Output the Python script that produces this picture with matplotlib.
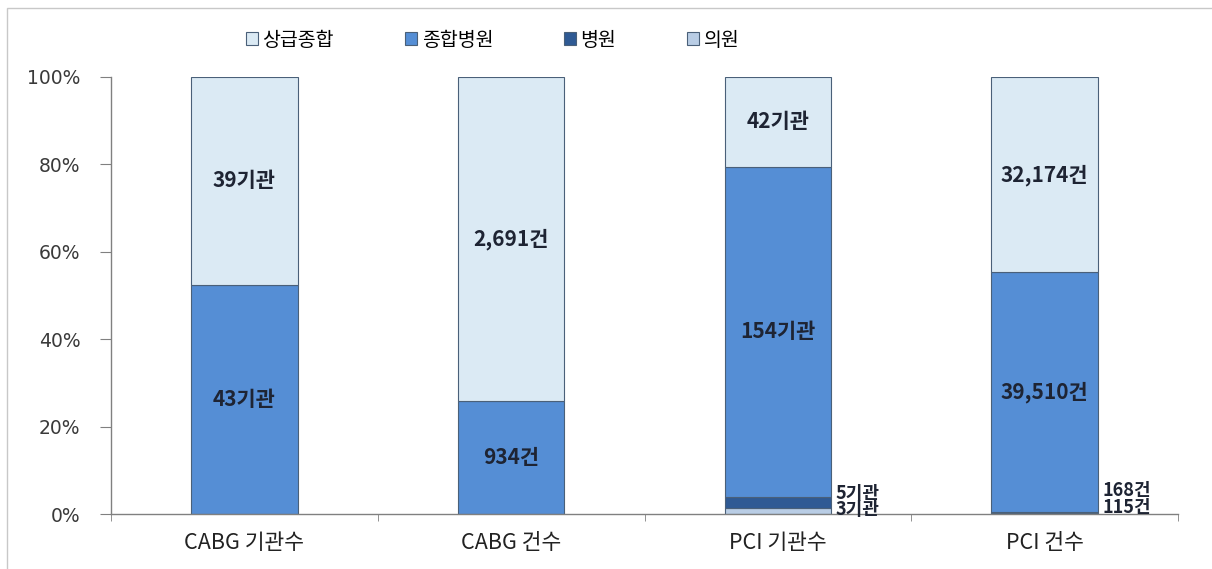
import matplotlib as mpl
mpl.use('Agg')
import matplotlib.pyplot as plt
from matplotlib.patches import Patch, Rectangle
import numpy as np

plt.rcParams['font.family'] = ['Noto Sans CJK KR', 'DejaVu Sans']

categories = ['CABG 기관수', 'CABG 건수', 'PCI 기관수', 'PCI 건수']
units = ['기관', '건', '기관', '건']

# counts per hospital type, stacked from the bottom
series_names = ['의원', '병원', '종합병원', '상급종합']
uiwon      = [0, 0, 3, 115]
byeongwon  = [0, 0, 5, 168]
jonghap    = [43, 934, 154, 39510]
sanggeup   = [39, 2691, 42, 32174]

COLMAP = {
  '상급종합' : '#dbeaf4',
  '종합병원' : '#558ed5',
  '병원'     : '#2f5a94',
  '의원'     : '#b9cde5',
}
EDGE = '#4a6079'
TXT = '#1e2433'

counts = np.array([uiwon, byeongwon, jonghap, sanggeup], dtype = float)
totals = counts.sum(axis = 0)
shares = counts / totals * 100.

fig = plt.figure(figsize = (12.12, 5.69), dpi = 100)
ax = fig.add_axes([111 / 1212, 1 - 514 / 569, (1178 - 111) / 1212, (514 - 77) / 569])

# chart frame (Excel chart area border)
fig.patches.append(Rectangle((7 / 1212, -0.1), 1.2, 1 - 8 / 569 + 0.1, transform = fig.transFigure,
                             fill = False, ec = '#c8c8c8', lw = 1.0))

x = np.arange(len(categories))
width = 0.4
bottom = np.zeros(len(categories))
for name, vals in zip(series_names, shares):
  ax.bar(x, vals, width, bottom = bottom, color = COLMAP[name], edgecolor = EDGE, linewidth = 0.8, zorder = 2)
  bottom += vals

# labels inside the big segments
bottom = np.zeros(len(categories))
for si, (name, vals) in enumerate(zip(series_names, shares)):
  for ci in range(len(categories)):
    v = counts[si, ci]
    if v <= 0:
      bottom[ci] += vals[ci]
      continue
    label = '{:,}{}'.format(int(v), units[ci])
    yc = bottom[ci] + vals[ci] / 2.
    if vals[ci] > 10:
      ax.text(x[ci], yc, label, ha = 'center', va = 'center', fontsize = 15, fontweight = 'bold', color = TXT)
    bottom[ci] += vals[ci]

# small segments: labels outside on the right (offsets in pixels)
small_offsets = {
  (1, 2) : 9, (0, 2) : 1,
  (1, 3) : 22, (0, 3) : 6,
}
bottom = np.zeros(len(categories))
for si, vals in enumerate(shares):
  for ci in range(len(categories)):
    if (si, ci) in small_offsets:
      label = '{:,}{}'.format(int(counts[si, ci]), units[ci])
      ax.annotate(label, xy = (x[ci] + width / 2, bottom[ci] + vals[ci] / 2.),
                  xytext = (3, small_offsets[(si, ci)] * 0.72), textcoords = 'offset points',
                  ha = 'left', va = 'center', fontsize = 13, fontweight = 'bold', color = TXT)
    bottom[ci] += vals[ci]

ax.set_xlim(-0.5, len(categories) - 0.5)
ax.set_ylim(0, 100)
ax.set_yticks(np.arange(0, 101, 20))
ax.set_yticklabels(['%d%%' % v for v in range(0, 101, 20)], fontsize = 13.5, color = '#3a3a3a',
                   family = 'DejaVu Sans')
ax.set_xticks(x)
ax.set_xticklabels(categories, fontsize = 15.5, color = '#222222')
ax.tick_params(axis = 'x', length = 0, pad = 13)
ax.set_xticks(np.arange(-0.5, len(categories)), minor = True)
ax.tick_params(axis = 'x', which = 'minor', length = 5, color = '#808080', direction = 'out')
ax.tick_params(axis = 'y', length = 8, color = '#808080', pad = 14)

for side in ['top', 'right']:
  ax.spines[side].set_visible(False)
for side in ['left', 'bottom']:
  ax.spines[side].set_color('#808080')
  ax.spines[side].set_linewidth(1.0)

handles = [Patch(facecolor = COLMAP[n], edgecolor = EDGE, linewidth = 0.8) for n in ['상급종합', '종합병원', '병원', '의원']]
fig.legend(handles, ['상급종합', '종합병원', '병원', '의원'], loc = 'center left', bbox_to_anchor = (246 / 1212, 1 - 40 / 569),
           ncol = 4, frameon = False, fontsize = 14, handlelength = 0.6, handleheight = 0.6,
           handletextpad = 0.25, columnspacing = 3.65, borderaxespad = 0, borderpad = 0)

plt.savefig('out.png', dpi = 100)
plt.close()
